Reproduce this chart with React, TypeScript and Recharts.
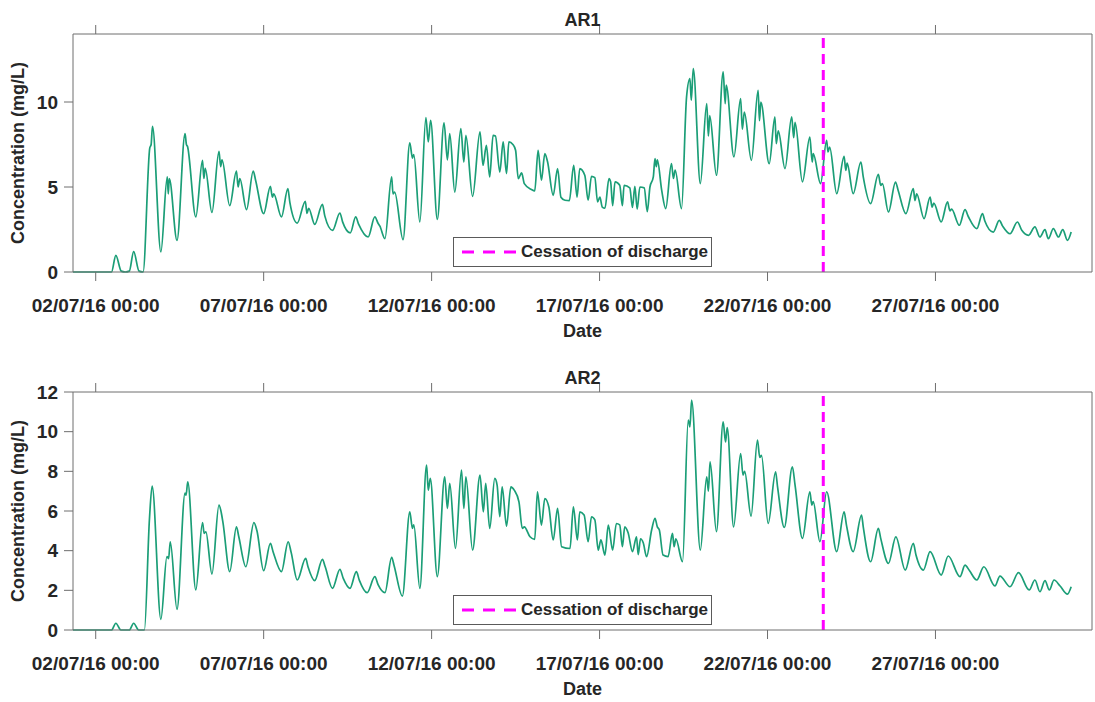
import React from "react";
import { LineChart, Line, XAxis, YAxis, ReferenceLine, Legend } from "recharts";

// time = days after 02/07/16 00:00
const tickDays = [0, 5, 10, 15, 20, 25];
const tickLabels = ["02/07/16 00:00", "07/07/16 00:00", "12/07/16 00:00", "17/07/16 00:00", "22/07/16 00:00", "27/07/16 00:00"];
const cessationDay = 21.66;
const ar1Ticks = [0, 5, 10];
const ar2Ticks = [0, 2, 4, 6, 8, 10, 12];

const ar1Series: [number, number][] = [
  [-0.676, 0], [0.47, 0], [0.6, 0.98], [0.76, 0.05], [0.88, 0], [1.0, 0.05], [1.13, 1.2], [1.29, 0.05], [1.41, 0],
  [1.61, 7.3], [1.65, 7.5], [1.69, 8.57], [1.94, 1.18], [2.13, 5.6], [2.16, 4.6], [2.19, 5.5], [2.42, 1.86],
  [2.66, 8.14], [2.7, 7.5], [2.73, 7.4], [2.98, 3.24], [3.18, 6.57], [3.22, 5.5], [3.26, 6.1], [3.46, 3.5],
  [3.67, 7.1], [3.72, 6.2], [3.76, 6.6], [3.99, 3.9], [4.19, 5.94], [4.24, 5.0], [4.29, 5.5], [4.49, 3.67],
  [4.69, 5.94], [4.76, 5.4], [5.0, 3.43], [5.2, 5.04], [5.26, 4.4], [5.3, 4.6], [5.53, 3.24], [5.72, 4.9],
  [5.78, 4.1], [6.0, 2.88], [6.24, 4.16], [6.29, 3.45], [6.34, 3.75], [6.52, 2.8], [6.75, 3.98], [6.82, 3.3],
  [7.05, 2.45], [7.27, 3.47], [7.35, 2.95], [7.58, 2.3], [7.74, 3.24], [7.83, 2.8], [8.11, 2.06], [8.31, 3.24],
  [8.41, 2.85], [8.46, 2.7], [8.61, 1.96], [8.81, 5.6], [8.85, 4.6], [8.9, 4.7], [9.15, 1.9], [9.35, 7.6],
  [9.43, 6.7], [9.47, 6.9], [9.65, 2.94], [9.83, 9.08], [9.9, 7.65], [9.97, 8.92], [10.17, 3.1], [10.37, 8.77],
  [10.47, 6.6], [10.54, 8.14], [10.69, 4.7], [10.87, 8.43], [10.96, 6.47], [11.02, 8.04], [11.22, 4.45],
  [11.44, 8.24], [11.53, 6.28], [11.63, 7.45], [11.73, 5.59], [11.83, 8.04], [11.9, 8.0], [12.03, 5.88],
  [12.13, 7.65], [12.23, 5.79], [12.3, 7.65], [12.42, 7.5], [12.5, 7.16], [12.58, 5.49], [12.68, 5.83],
  [12.76, 5.2], [12.97, 4.85], [13.07, 4.77], [13.17, 7.16], [13.27, 5.4], [13.37, 6.96], [13.45, 6.5],
  [13.62, 4.51], [13.75, 6.08], [13.85, 4.4], [13.97, 4.22], [14.1, 4.2], [14.23, 6.28], [14.33, 4.41],
  [14.41, 6.08], [14.56, 5.69], [14.66, 4.22], [14.76, 5.63], [14.86, 5.55], [14.94, 4.12], [15.01, 4.4],
  [15.08, 3.82], [15.16, 3.75], [15.28, 5.49], [15.33, 5.3], [15.39, 3.9], [15.46, 5.3], [15.6, 5.1],
  [15.68, 3.9], [15.73, 5.1], [15.9, 4.95], [15.98, 3.8], [16.05, 5.04], [16.12, 3.7], [16.2, 5.0],
  [16.33, 4.95], [16.42, 3.55], [16.5, 5.0], [16.6, 5.59], [16.65, 6.67], [16.69, 6.2], [16.72, 6.6],
  [16.85, 4.8], [16.97, 3.73], [17.14, 6.37], [17.2, 5.5], [17.25, 6.0], [17.44, 3.73], [17.59, 10.3],
  [17.69, 11.37], [17.73, 10.1], [17.79, 11.96], [18.0, 5.2], [18.19, 9.9], [18.24, 8.0], [18.28, 9.2],
  [18.48, 5.69], [18.68, 11.77], [18.74, 9.9], [18.77, 11.0], [19.0, 6.77], [19.2, 10.2], [19.25, 8.4],
  [19.31, 9.4], [19.52, 6.57], [19.72, 10.69], [19.76, 8.9], [19.8, 10.0], [20.05, 6.37], [20.22, 9.12],
  [20.26, 7.55], [20.32, 8.3], [20.52, 6.08], [20.72, 9.12], [20.78, 7.9], [20.82, 8.8], [21.04, 5.3],
  [21.26, 7.94], [21.33, 6.47], [21.36, 6.96], [21.58, 5.2], [21.76, 7.75], [21.8, 7.06], [21.85, 7.35],
  [22.06, 4.61], [22.28, 6.8], [22.33, 5.98], [22.37, 6.4], [22.55, 4.61], [22.78, 6.47], [22.85, 5.59],
  [23.07, 4.02], [23.3, 5.75], [23.37, 5.1], [23.42, 5.2], [23.6, 3.53], [23.81, 5.29], [23.89, 4.8],
  [24.12, 3.43], [24.34, 4.9], [24.39, 4.2], [24.44, 4.6], [24.66, 3.14], [24.84, 4.41], [24.9, 3.82],
  [24.95, 4.05], [25.17, 2.94], [25.36, 4.12], [25.43, 3.6], [25.48, 3.7], [25.71, 2.75], [25.88, 3.67],
  [25.98, 3.25], [26.23, 2.55], [26.4, 3.43], [26.47, 3.0], [26.72, 2.35], [26.9, 3.04], [27.0, 2.7],
  [27.22, 2.25], [27.44, 2.94], [27.57, 2.45], [27.77, 2.16], [27.96, 2.65], [28.11, 2.06], [28.26, 2.49],
  [28.36, 1.96], [28.51, 2.55], [28.66, 2.06], [28.79, 2.49], [28.93, 1.86], [29.04, 2.35],
];

const ar2Series: [number, number][] = [
  [-0.676, 0], [0.47, 0], [0.6, 0.34], [0.75, 0], [1.0, 0], [1.13, 0.34], [1.28, 0], [1.45, 0],
  [1.6, 5.6], [1.68, 7.25], [1.94, 0.54], [2.12, 3.7], [2.17, 3.6], [2.22, 4.45], [2.42, 1.04],
  [2.66, 6.9], [2.69, 6.8], [2.74, 7.47], [2.98, 2.02], [3.18, 5.41], [3.23, 4.87], [3.28, 4.95],
  [3.46, 2.82], [3.67, 6.3], [3.74, 5.9], [3.79, 5.4], [3.99, 2.94], [4.19, 5.2], [4.26, 4.7], [4.47, 3.19],
  [4.71, 5.41], [4.8, 5.0], [5.0, 2.99], [5.2, 4.37], [5.28, 3.95], [5.53, 2.94], [5.73, 4.45], [5.82, 3.9],
  [6.0, 2.52], [6.25, 3.61], [6.32, 3.19], [6.52, 2.49], [6.75, 3.56], [6.83, 3.2], [7.05, 2.1], [7.27, 3.06],
  [7.37, 2.6], [7.57, 2.1], [7.76, 2.94], [7.85, 2.5], [8.08, 1.88], [8.31, 2.69], [8.41, 2.27], [8.61, 1.88],
  [8.81, 3.66], [8.88, 3.27], [9.13, 1.71], [9.35, 5.96], [9.43, 5.12], [9.47, 5.3], [9.65, 2.1], [9.85, 8.31],
  [9.9, 7.05], [9.96, 7.64], [10.17, 2.69], [10.39, 7.72], [10.47, 6.13], [10.54, 7.39], [10.71, 4.11],
  [10.89, 8.06], [10.96, 6.13], [11.02, 7.72], [11.22, 4.03], [11.44, 7.81], [11.54, 5.96], [11.61, 7.39],
  [11.73, 5.12], [11.88, 7.64], [11.95, 7.3], [12.03, 5.71], [12.1, 7.22], [12.23, 5.24], [12.36, 7.22],
  [12.46, 7.05], [12.6, 6.46], [12.7, 5.12], [12.76, 5.2], [12.93, 4.7], [13.07, 4.57], [13.15, 6.97],
  [13.27, 5.29], [13.37, 6.63], [13.49, 6.2], [13.62, 4.54], [13.75, 6.13], [13.87, 4.2], [14.12, 4.11],
  [14.22, 6.21], [14.34, 4.54], [14.41, 5.96], [14.54, 5.8], [14.66, 4.45], [14.76, 5.71], [14.86, 5.55],
  [14.96, 4.03], [15.04, 4.54], [15.16, 3.78], [15.26, 5.29], [15.39, 4.03], [15.5, 5.37], [15.6, 5.3],
  [15.68, 4.2], [15.75, 5.2], [15.85, 4.9], [15.98, 3.95], [16.1, 4.7], [16.15, 3.8], [16.22, 4.6],
  [16.3, 4.4], [16.4, 3.7], [16.55, 5.04], [16.65, 5.63], [16.72, 5.2], [16.78, 5.04], [16.89, 3.78],
  [17.04, 3.7], [17.17, 4.87], [17.22, 4.2], [17.27, 4.6], [17.47, 3.44], [17.64, 10.58], [17.69, 10.24],
  [17.74, 11.59], [18.0, 4.03], [18.19, 7.72], [18.24, 7.0], [18.29, 8.48], [18.48, 4.96], [18.68, 10.49],
  [18.75, 9.48], [18.8, 10.2], [18.99, 5.2], [19.2, 8.9], [19.27, 7.81], [19.32, 8.0], [19.51, 5.74],
  [19.7, 9.57], [19.77, 8.7], [19.82, 8.8], [20.02, 5.37], [20.24, 7.97], [20.3, 7.2], [20.5, 5.17],
  [20.74, 8.23], [20.82, 7.3], [21.04, 4.62], [21.26, 6.97], [21.32, 6.3], [21.36, 6.47], [21.56, 4.45],
  [21.76, 6.97], [22.06, 3.95], [22.28, 5.96], [22.35, 5.29], [22.55, 3.95], [22.8, 5.79], [22.85, 5.2],
  [23.07, 3.44], [23.3, 5.12], [23.37, 4.62], [23.6, 3.36], [23.82, 4.7], [24.1, 3.02], [24.34, 4.37],
  [24.42, 3.78], [24.64, 3.02], [24.84, 3.95], [25.17, 2.77], [25.38, 3.73], [25.73, 2.69], [25.88, 3.27],
  [26.01, 3.0], [26.23, 2.52], [26.44, 3.19], [26.77, 2.22], [26.92, 2.72], [27.22, 2.18], [27.47, 2.89],
  [27.79, 2.02], [27.96, 2.52], [28.11, 1.93], [28.26, 2.49], [28.39, 2.02], [28.53, 2.52], [28.71, 2.22],
  [28.93, 1.81], [29.04, 2.18],
];

const GREEN = "#1b9e77";
const MAGENTA = "#ff00ff";
const AXIS = "#6e6e6e";
const TEXT = "#262626";
const FONT = "'Liberation Sans', Arial, Helvetica, sans-serif";

const LegendBox = () => (
  <div
    style={{
      width: 259,
      height: 30,
      boxSizing: "border-box",
      border: "1px solid #5a5a5a",
      background: "#fff",
      display: "flex",
      alignItems: "center",
      fontFamily: FONT,
      fontWeight: "bold",
      fontSize: 17,
      color: TEXT,
      whiteSpace: "nowrap",
    }}
  >
    <svg width={62} height={10} style={{ flex: "none" }}>
      <line x1={8} x2={62} y1={5} y2={5} stroke={MAGENTA} strokeWidth={3} strokeDasharray="12 9" />
    </svg>
    <span style={{ marginLeft: 5 }}>Cessation of discharge</span>
  </div>
);

type PanelProps = {
  title: string;
  series: [number, number][];
  yMax: number;
  yTicks: number[];
  top: number;
};

const Panel = ({ title, series, yMax, yTicks, top }: PanelProps) => {
  const data = series.map(([t, v]) => ({ t, v }));
  const tickStyle = { fill: TEXT, fontSize: 19, fontWeight: "bold" as const };
  return (
    <div style={{ position: "absolute", left: 0, top, width: 1095, height: 344 }}>
      <LineChart width={1095} height={344} data={data} margin={{ top: 33, right: 2, bottom: 2, left: 0 }}>
        <XAxis
          xAxisId="bottom"
          dataKey="t"
          type="number"
          domain={[-0.676, 29.66]}
          allowDataOverflow
          ticks={tickDays}
          interval={0}
          tickFormatter={(v: number) => tickLabels[tickDays.indexOf(v)] ?? ""}
          height={70}
          tickSize={9}
          tickMargin={18}
          stroke={AXIS}
          tick={tickStyle}
          label={{ value: "Date", position: "insideBottom", offset: 5, fill: TEXT, fontSize: 18, fontWeight: "bold" }}
        />
        <XAxis
          xAxisId="top"
          orientation="top"
          dataKey="t"
          type="number"
          domain={[-0.676, 29.66]}
          allowDataOverflow
          ticks={tickDays}
          interval={0}
          tickFormatter={() => ""}
          height={1}
          tickSize={9}
          stroke={AXIS}
          label={{ value: title, position: "top", offset: 7, fill: TEXT, fontSize: 18, fontWeight: "bold" }}
        />
        <YAxis
          yAxisId="left"
          type="number"
          domain={[0, yMax]}
          ticks={yTicks}
          interval={0}
          width={73}
          tickSize={9}
          tickMargin={6}
          stroke={AXIS}
          tick={tickStyle}
          label={{
            value: "Concentration (mg/L)",
            angle: -90,
            position: "insideLeft",
            offset: 18,
            fill: TEXT,
            fontSize: 18,
            fontWeight: "bold",
            style: { textAnchor: "middle" },
          }}
        />
        <YAxis
          yAxisId="right"
          orientation="right"
          type="number"
          domain={[0, yMax]}
          ticks={yTicks}
          interval={0}
          width={1}
          tickSize={9}
          tickFormatter={() => ""}
          stroke={AXIS}
        />
        <Line
          xAxisId="bottom"
          yAxisId="left"
          type="monotone"
          dataKey="v"
          stroke={GREEN}
          strokeWidth={1.7}
          dot={false}
          activeDot={false}
          isAnimationActive={false}
        />
        <ReferenceLine
          xAxisId="bottom"
          yAxisId="left"
          x={cessationDay}
          stroke={MAGENTA}
          strokeWidth={3}
          strokeDasharray="10 6"
        />
        <Legend
          layout="horizontal"
          verticalAlign="middle"
          align="center"
          content={() => <LegendBox />}
          wrapperStyle={{ left: 453, top: 237, width: 259, height: 30 }}
        />
      </LineChart>
    </div>
  );
};

export default function App() {
  return (
    <div style={{ position: "absolute", left: 0, top: 0, width: 1095, height: 702, background: "#fff", fontFamily: FONT }}>
      <Panel title="AR1" series={ar1Series} yMax={14} yTicks={ar1Ticks} top={0} />
      <Panel title="AR2" series={ar2Series} yMax={12} yTicks={ar2Ticks} top={358} />
    </div>
  );
}
